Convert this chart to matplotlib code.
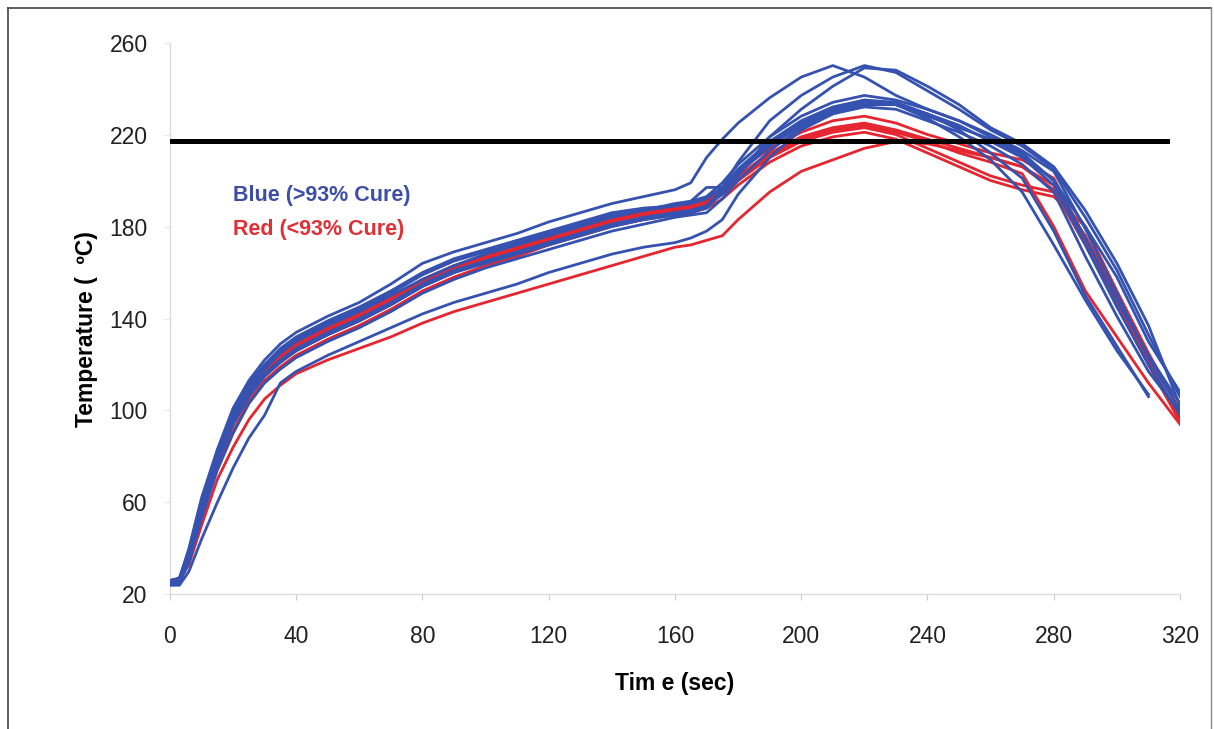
import numpy as np
import matplotlib
matplotlib.use("Agg")
import matplotlib.pyplot as plt
from matplotlib.lines import Line2D

plt.rcParams['font.family'] = ['Liberation Sans', 'DejaVu Sans']

# time axis (sec)
time_s = [0, 3, 6, 10, 15, 20, 25, 30, 35, 40, 50, 60, 70, 80, 90, 100, 110, 120,
          130, 140, 150, 160, 165, 170, 175, 180, 190, 200, 210, 220, 230, 240,
          250, 260, 270, 280, 290, 300, 310, 320]

# blue runs (>93% cure)
blue_1 = [26, 27, 40, 62, 83, 101, 113, 122, 129, 134, 141, 147, 155, 164, 169, 173, 177, 182,
          186, 190, 193, 196, 199, 210, 218, 225, 236, 245, 250, 245, 237, 231,
          226, 219, 212, 200, 180, 158, 130, 108]
blue_2 = [25, 26, 37, 57, 79, 96, 109, 118, 125, 130, 137, 143, 150, 157, 163, 168, 172, 176,
          180, 184, 187, 190, 191, 197, 197, 208, 226, 237, 245, 250, 247, 239,
          231, 222, 215, 205, 184, 161, 133, 106]
blue_3 = [25, 26, 36, 55, 77, 94, 107, 115, 121, 126, 133, 139, 146, 154, 160, 164, 168, 172,
          176, 180, 183, 186, 187, 189, 194, 202, 219, 231, 241, 249, 248, 241,
          233, 223, 216, 206, 187, 164, 137, 102]
blue_4 = [26, 27, 38, 59, 81, 98, 111, 119, 126, 131, 138, 144, 151, 159, 165, 169, 173, 177,
          181, 185, 187, 189, 191, 193, 199, 207, 219, 228, 234, 237, 235, 231,
          226, 220, 213, 204, 179, 151, 123, 100]
blue_5 = [25, 26, 37, 57, 78, 95, 108, 116, 122, 127, 134, 140, 147, 155, 161, 165, 169, 173,
          177, 181, 183, 185, 186, 188, 195, 203, 215, 224, 230, 234, 233, 229,
          224, 217, 210, 198, 172, 145, 120, 98]
blue_6 = [24, 25, 34, 53, 74, 90, 103, 112, 118, 123, 130, 136, 143, 151, 157, 162, 166, 170,
          174, 178, 181, 184, 185, 186, 192, 200, 213, 223, 229, 232, 231, 226,
          221, 215, 207, 195, 167, 141, 117, 99]
blue_7 = [24, 24, 30, 44, 60, 75, 88, 98, 112, 117, 124, 130, 136, 142, 147, 151, 155, 160,
          164, 168, 171, 173, 175, 178, 183, 194, 210, 222, 229, 233, 233, 228,
          223, 218, 211, 200, 175, 148, 124, 103]
blue_8 = [25, 26, 36, 56, 78, 94, 106, 115, 121, 126, 133, 139, 146, 154, 160, 165, 169, 173,
          177, 181, 184, 186, 187, 189, 196, 204, 216, 225, 231, 235, 234, 229,
          222, 212, 201, 178, 150, 128, 106]
blue_9 = [26, 27, 39, 61, 82, 99, 112, 120, 127, 132, 139, 145, 152, 160, 166, 170, 174, 178,
          182, 186, 188, 189, 190, 192, 197, 205, 217, 226, 232, 235, 233, 227,
          219, 209, 195, 172, 148, 126, 107]

# red runs (<93% cure)
red_1 = [25, 26, 37, 58, 80, 96, 109, 117, 124, 129, 136, 142, 149, 157, 163, 167, 171, 176,
         180, 184, 187, 189, 190, 192, 197, 204, 214, 221, 226, 228, 225, 220,
         216, 212, 209, 201, 175, 148, 120, 95]
red_2 = [26, 27, 38, 59, 81, 97, 110, 118, 124, 129, 135, 141, 148, 156, 162, 166, 171, 175,
         179, 183, 186, 188, 189, 191, 196, 202, 212, 219, 223, 225, 222, 218,
         214, 210, 206, 196, 172, 146, 120, 97]
red_3 = [25, 26, 36, 56, 78, 94, 106, 115, 121, 126, 133, 139, 146, 154, 160, 165, 169, 174,
         178, 182, 185, 187, 188, 190, 194, 200, 210, 217, 221, 223, 220, 214,
         208, 202, 198, 195, 176, 150, 122, 96]
red_4 = [25, 26, 35, 54, 75, 91, 104, 113, 119, 124, 131, 137, 144, 152, 158, 163, 167, 172,
         176, 180, 183, 185, 186, 188, 192, 198, 208, 215, 219, 221, 218, 212,
         206, 200, 196, 193, 180, 152, 125, 100]
red_5 = [26, 27, 37, 57, 79, 95, 108, 116, 123, 128, 135, 141, 148, 156, 162, 166, 170, 175,
         179, 183, 186, 188, 189, 191, 195, 201, 211, 218, 222, 224, 221, 217,
         212, 208, 203, 180, 152, 132, 112, 94]
red_6 = [25, 26, 33, 50, 70, 84, 96, 105, 111, 116, 122, 127, 132, 138, 143, 147, 151, 155,
         159, 163, 167, 171, 172, 174, 176, 183, 195, 204, 209, 214, 217, 216,
         213, 210, 206, 198, 174, 148, 120, 96]

blue_runs = [blue_1, blue_2, blue_3, blue_4, blue_5, blue_6, blue_7, blue_8, blue_9]
red_runs = [red_1, red_2, red_3, red_4, red_5, red_6]

limit_temp = 217
limit_end = 316

blue_c = '#3552B0'
red_c = '#E52630'

fig = plt.figure(figsize=(12.14, 7.29), dpi=100)
ax = fig.add_axes([0.140, 0.1846, 0.832, 0.757])

for run in red_runs:
    ax.plot(time_s[:len(run)], run, color=red_c, lw=2.0, zorder=2)
for run in blue_runs:
    ax.plot(time_s[:len(run)], run, color=blue_c, lw=2.0, zorder=3)

ax.plot([0, limit_end], [limit_temp, limit_temp], color='black', lw=3.6, zorder=4)

ax.set_xlim(0, 320)
ax.set_ylim(20, 260)
ax.set_xticks(range(0, 321, 40))
ax.set_yticks(range(20, 261, 40))

for s in ['top', 'right']:
    ax.spines[s].set_visible(False)
for s in ['left', 'bottom']:
    ax.spines[s].set_color('#dcdcdc')
    ax.spines[s].set_linewidth(1.0)

ax.tick_params(axis='x', length=4, color='#cccccc', pad=18, labelsize=16.5, labelcolor='#222222')
ax.tick_params(axis='y', length=4, color='#e6e6e6', pad=12, labelsize=16.5, labelcolor='#222222')

ax.set_xlabel('Tim e (sec)', fontsize=16.5, fontweight='bold')
ax.xaxis.set_label_coords(0.5, -0.140)
ax.set_ylabel('Temperature (  ºC)', fontsize=16.5, fontweight='bold')
ax.yaxis.set_label_coords(-0.071, 0.48)

ax.text(20, 193.5, 'Blue (>93% Cure)', color='#3D4FA5', fontsize=15.5,
        fontweight='bold', va='center', ha='left')
ax.text(20, 178.5, 'Red (<93% Cure)', color='#E03036', fontsize=15.5,
        fontweight='bold', va='center', ha='left')

# picture frame
fig.add_artist(Line2D([0.0066, 0.0066], [0.0, 0.989], transform=fig.transFigure, color='#444444', lw=1.2))
fig.add_artist(Line2D([0.0066, 0.9975], [0.989, 0.989], transform=fig.transFigure, color='#444444', lw=1.2))
fig.add_artist(Line2D([0.9975, 0.9975], [0.0, 0.989], transform=fig.transFigure, color='#888888', lw=1.0))

fig.savefig('out.png', dpi=100, facecolor='white')
